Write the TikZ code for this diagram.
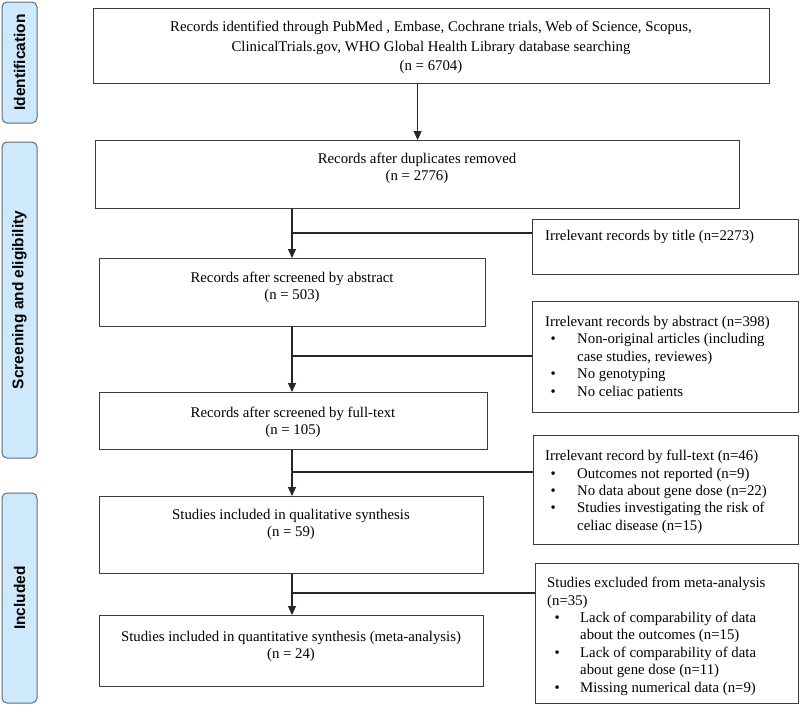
\documentclass[tikz,border=0pt]{standalone}
\usepackage{fontspec}
\setmainfont{Liberation Serif}
\newfontfamily\lblfont{Liberation Sans}
\usetikzlibrary{arrows.meta}
\definecolor{lblfill}{RGB}{206,233,251}
\definecolor{lbldraw}{RGB}{95,110,125}
\definecolor{boxdraw}{RGB}{60,60,60}
\newcommand\bla{\makebox[32pt][l]{\hspace{5.4pt}\textbullet}}
\newcommand\inda{\hspace*{32pt}}
\newcommand\blb{\makebox[33pt][l]{\hspace{7.4pt}\textbullet}}
\newcommand\indb{\hspace*{33pt}}
\begin{document}
\begin{tikzpicture}[x=1pt,y=-1pt,
  box/.style={draw=boxdraw, line width=1.2pt, inner sep=0pt, anchor=north west},
  txt/.style={inner sep=0pt, font=\fontsize{14.8}{17}\selectfont, align=center, anchor=north},
  ltxt/.style={inner sep=0pt, font=\fontsize{14.8}{17.4}\selectfont, align=left, anchor=north west},
  lbl/.style={draw=lbldraw, fill=lblfill, line width=1pt, rounded corners=5pt, rotate=90,
    font=\lblfont\bfseries\fontsize{15.5}{18}\selectfont, inner sep=0pt},
  conn/.style={draw=black!85, line width=1.1pt},
  arr/.style={conn, -{Triangle[length=9pt,width=8pt]}}
]
\fill[white] (0,0) rectangle (800,705);
\useasboundingbox (0,0) rectangle (800,705);

% side labels
\node[lbl, minimum width=121pt, minimum height=35pt] (L1) at (19.5,62.5) {Identification};
\node[lbl, minimum width=316pt, minimum height=35pt] (L2) at (19.5,300) {Screening and eligibility};
\node[lbl, minimum width=210pt, minimum height=35pt] (L3) at (19.5,598) {Included};

% main boxes
\node[box, minimum width=676pt, minimum height=75pt] (top) at (93,8) {};
\node[box, minimum width=644pt, minimum height=68pt] (b2) at (95,140) {};
\node[box, minimum width=386pt, minimum height=68pt] (b3) at (99,258) {};
\node[box, minimum width=388pt, minimum height=57pt] (b4) at (99,392) {};
\node[box, minimum width=384pt, minimum height=77pt] (b5) at (99,496) {};
\node[box, minimum width=384pt, minimum height=71pt] (b6) at (99,615) {};

% side boxes
\node[box, minimum width=266pt, minimum height=55pt] (t1) at (532,219) {};
\node[box, minimum width=266pt, minimum height=111pt] (t2) at (532,301) {};
\node[box, minimum width=265pt, minimum height=109pt] (t3) at (533,435) {};
\node[box, minimum width=263pt, minimum height=140pt] (t4) at (535,563) {};

% texts
\node[txt, font=\fontsize{14.8}{19.5}\selectfont] (topt) at (431,21) {Records identified through PubMed , Embase, Cochrane trials, Web of Science, Scopus,\\ClinicalTrials.gov, WHO Global Health Library database searching\\(n = 6704)};
\node[txt] (b2t) at (417,153) {Records after duplicates removed\\(n = 2776)};
\node[txt] (b3t) at (292,272) {Records after screened by abstract\\(n = 503)};
\node[txt] (b4t) at (293,407) {Records after screened by full-text\\(n = 105)};
\node[txt] (b5t) at (291,509) {Studies included in qualitative synthesis\\(n = 59)};
\node[txt] (b6t) at (291,631) {Studies included in quantitative synthesis (meta-analysis)\\(n = 24)};

\node[ltxt] (t1t) at (545,230) {Irrelevant records by title (n=2273)};
\node[ltxt] (t2t) at (545,316) {Irrelevant records by abstract (n=398)\\
\bla Non-original articles (including\\
\inda case studies, reviewes)\\
\bla No genotyping\\
\bla No celiac patients};
\node[ltxt] (t3t) at (545,450) {Irrelevant record by full-text (n=46)\\
\bla Outcomes not reported (n=9)\\
\bla No data about gene dose (n=22)\\
\bla Studies investigating the risk of\\
\inda celiac disease (n=15)};
\node[ltxt] (t4t) at (547,577) {Studies excluded from meta-analysis\\
(n=35)\\
\blb Lack of comparability of data\\
\indb about the outcomes (n=15)\\
\blb Lack of comparability of data\\
\indb about gene dose (n=11)\\
\blb Missing numerical data (n=9)};

% connectors
\coordinate (tr) at (292,0);
\coordinate (j1) at (292,233);
\coordinate (j2) at (292,356);
\coordinate (j3) at (292,472);
\coordinate (j4) at (292,593);
\draw[arr] (top.south -| b2.north) -- (b2.north);
\draw[arr] (b2.south -| tr) -- (b3.north -| tr);
\draw[arr] (b3.south -| tr) -- (b4.north -| tr);
\draw[arr] (b4.south -| tr) -- (b5.north -| tr);
\draw[arr] (b5.south -| tr) -- (b6.north -| tr);
\draw[conn] (j1) -- (j1 -| t1.west);
\draw[conn] (j2) -- (j2 -| t2.west);
\draw[conn] (j3) -- (j3 -| t3.west);
\draw[conn] (j4) -- (j4 -| t4.west);
\end{tikzpicture}
\end{document}
